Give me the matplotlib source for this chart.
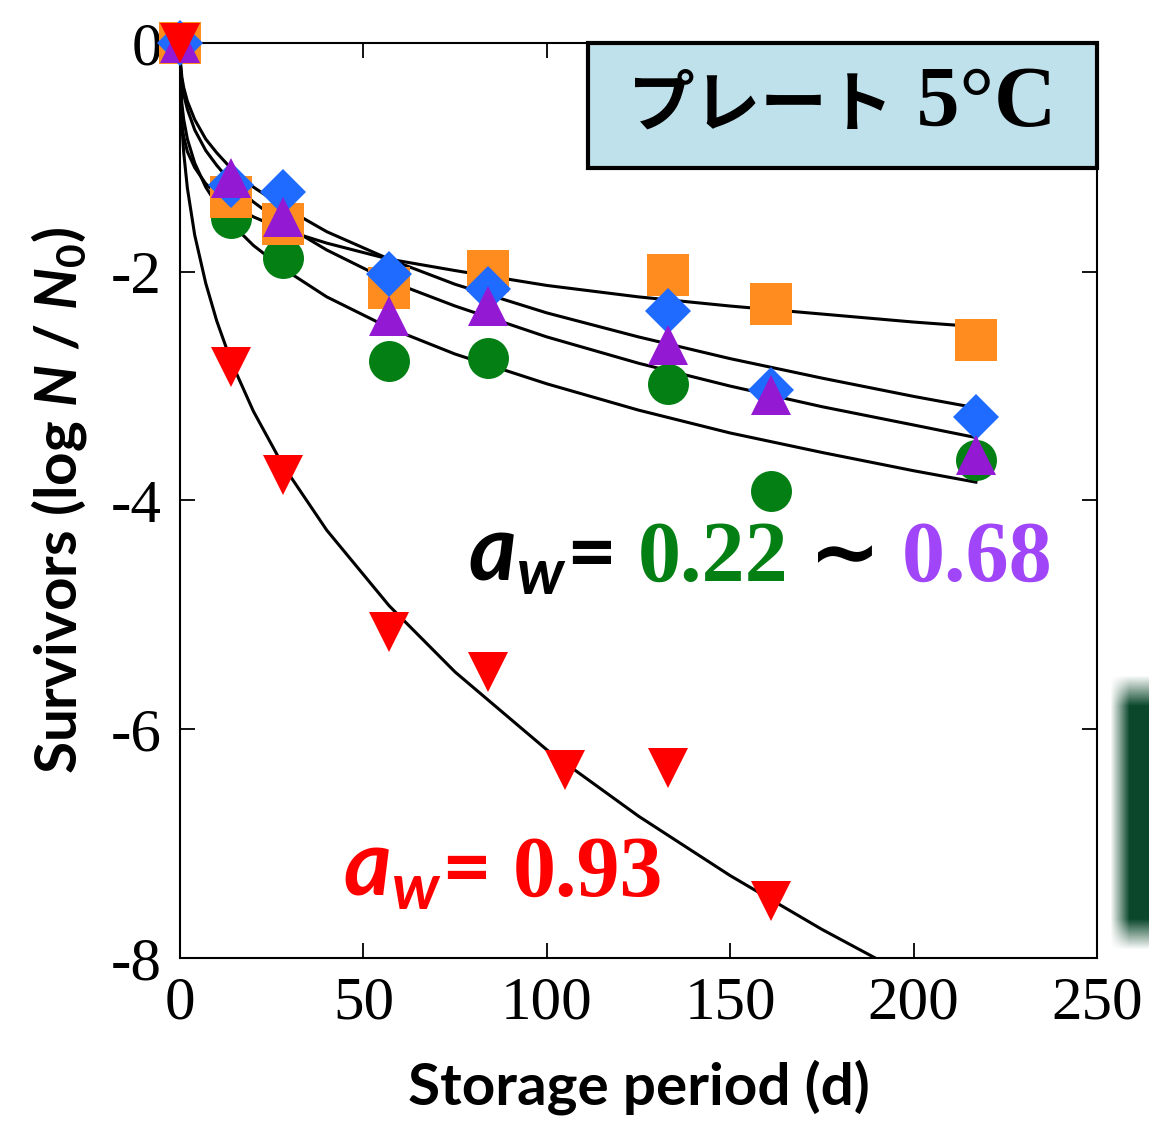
import numpy as np
import matplotlib
matplotlib.use("Agg")
import matplotlib.pyplot as plt
from matplotlib.patches import Rectangle
from matplotlib.offsetbox import TextArea, HPacker, AnnotationBbox

plt.rcParams["axes.unicode_minus"] = False
plt.rcParams["mathtext.fontset"] = "custom"
plt.rcParams["mathtext.bfit"] = "Lato:italic:bold"
plt.rcParams["mathtext.it"] = "Lato:italic:bold"
plt.rcParams["mathtext.rm"] = "Lato:bold"
plt.rcParams["mathtext.bf"] = "Lato:bold"

SANS = ["Lato", "DejaVu Sans"]
SERIF = ["Liberation Serif", "DejaVu Serif"]
CJK = ["Noto Sans CJK JP", "DejaVu Sans"]

# measured survivors (log N/N0) per storage day
days = [0, 14, 28, 57, 84, 133, 161, 217]
orange = [0, -1.35, -1.58, -2.14, -1.99, -2.03, -2.28, -2.60]
blue = [0, -1.24, -1.30, -2.02, -2.15, -2.34, -3.03, -3.27]
purple = [0, -1.18, -1.52, -2.39, -2.30, -2.64, -3.08, -3.60]
green = [0, -1.53, -1.88, -2.78, -2.75, -2.98, -3.92, -3.65]
red_days = [0, 14, 28, 57, 84, 105, 133, 161]
red = [0, -2.83, -3.78, -5.15, -5.50, -6.36, -6.34, -7.50]

# fitted curves
t_fit = [0, 0.1, 0.5, 1, 2, 4, 7, 10, 14, 20, 28, 40, 57, 75, 100, 125, 150, 175, 200, 217]
fit_orange = [0, -0.51, -0.71, -0.82, -0.95, -1.09, -1.23, -1.32, -1.41, -1.52, -1.63,
              -1.75, -1.89, -1.99, -2.12, -2.22, -2.30, -2.37, -2.44, -2.48]
fit_blue = [0, -0.16, -0.30, -0.39, -0.51, -0.67, -0.84, -0.96, -1.10, -1.26, -1.43,
            -1.65, -1.89, -2.11, -2.36, -2.57, -2.76, -2.93, -3.09, -3.19]
fit_purple = [0, -0.19, -0.34, -0.45, -0.58, -0.76, -0.94, -1.07, -1.22, -1.39, -1.58,
              -1.81, -2.08, -2.30, -2.57, -2.80, -3.00, -3.18, -3.34, -3.45]
fit_green = [0, -0.32, -0.53, -0.67, -0.84, -1.05, -1.26, -1.41, -1.58, -1.77, -1.97,
             -2.22, -2.49, -2.72, -2.98, -3.21, -3.41, -3.58, -3.74, -3.84]
t_red = [0, 0.1, 0.5, 1, 2, 4, 7, 10, 14, 20, 28, 40, 57, 75, 100, 125, 150, 175, 200]
fit_red = [0, -0.38, -0.72, -0.96, -1.27, -1.68, -2.10, -2.43, -2.79, -3.22, -3.69,
           -4.26, -4.92, -5.50, -6.18, -6.76, -7.28, -7.75, -8.18]

x_ticks = [0, 50, 100, 150, 200, 250]
y_ticks = [-8, -6, -4, -2, 0]

C_ORANGE = "#FF8C1F"
C_BLUE = "#1F6BFF"
C_PURPLE = "#9419D2"
C_GREEN = "#037F14"
C_RED = "#FF0000"
C_PURPLE_TXT = "#A045F7"


def piece(s, color, family, size=62):
    return TextArea(s, textprops=dict(color=color, family=family, size=size, weight="bold"))


fig = plt.figure(figsize=(11.49, 11.22), dpi=100)
ax = fig.add_axes([0.1567, 0.1462, 0.798, 0.8155])

for t, f in [(t_fit, fit_orange), (t_fit, fit_blue), (t_fit, fit_purple),
             (t_fit, fit_green), (t_red, fit_red)]:
    ax.plot(t, f, color="black", lw=2.2, zorder=2)

mk = dict(ls="none", mew=0, clip_on=False)
ax.plot(days, green, "o", ms=29.5, color=C_GREEN, zorder=3, **mk)
ax.plot(days, orange, "s", ms=30, color=C_ORANGE, zorder=4, **mk)
ax.plot(days, blue, "D", ms=23, color=C_BLUE, zorder=5, **mk)
ax.plot(days, purple, "^", ms=29, color=C_PURPLE, zorder=6, **mk)
ax.plot(red_days, red, "v", ms=29, color=C_RED, zorder=7, **mk)

ax.set_xlim(0, 250)
ax.set_ylim(-8, 0)
ax.set_xticks(x_ticks)
ax.set_yticks(y_ticks)
ax.tick_params(direction="in", length=11, width=1.3, top=True, right=True,
               labelsize=44, pad=13)
for lab in ax.get_xticklabels() + ax.get_yticklabels():
    lab.set_family(SERIF)
for s in ax.spines.values():
    s.set_linewidth(1.5)

ax.set_xlabel("Storage period (d)", family=SANS, weight="bold", size=42, labelpad=20)
ax.set_ylabel(r"Survivors (log $\mathit{N}$ / $\mathit{N}_{\mathit{0}}$)",
              family=SANS, weight="bold", size=42, labelpad=16)

# title box
ax.add_patch(Rectangle((0.445, 0.8634), 0.555, 0.1366, transform=ax.transAxes,
                       facecolor="#BFE1EB", edgecolor="black", lw=3, zorder=10, clip_on=False))
title = HPacker(children=[piece("プレート", "black", CJK, 48), piece(" 5°C", "black", SERIF, 62)],
                align="baseline", pad=0, sep=0)
ax.add_artist(AnnotationBbox(title, (0.722, 0.932), xycoords="axes fraction",
                             box_alignment=(0.5, 0.5), frameon=False, pad=0, zorder=11))

aw = r"$\mathbfit{a}_{\mathbfit{w}}$"
top_lab = HPacker(children=[piece(aw, "black", SANS, 66), piece("= ", "black", SANS),
                            piece("0.22", C_GREEN, SERIF), piece(" \u223c ", "black", SANS),
                            piece("0.68", C_PURPLE_TXT, SERIF)],
                  align="baseline", pad=0, sep=0)
ax.add_artist(AnnotationBbox(top_lab, (0.314, 0.391), xycoords="axes fraction",
                             box_alignment=(0, 0), frameon=False, pad=0, zorder=8))
red_lab = HPacker(children=[piece(aw, C_RED, SANS, 66), piece("= ", C_RED, SANS),
                            piece("0.93", C_RED, SERIF)],
                  align="baseline", pad=0, sep=0)
ax.add_artist(AnnotationBbox(red_lab, (0.178, 0.047), xycoords="axes fraction",
                             box_alignment=(0, 0), frameon=False, pad=0, zorder=8))

# blurred green panel peeking in at the right edge
deco = fig.add_axes([1110 / 1149, (1122 - 950) / 1122, 39 / 1149, 275 / 1122])
deco.axis("off")
hh, ww = 275, 39
yy = np.linspace(0, 1, hh)[:, None]
xx = np.linspace(0, 1, ww)[None, :]
alpha = np.clip(xx * 2.0, 0, 1) * np.clip(yy * 9, 0, 1) * np.clip((1 - yy) * 9, 0, 1)
rgba = np.zeros((hh, ww, 4))
rgba[..., 0] = 0.04
rgba[..., 1] = 0.28
rgba[..., 2] = 0.17
rgba[..., 3] = alpha
deco.imshow(rgba, aspect="auto", interpolation="bilinear")

fig.savefig("out.png", dpi=100)
